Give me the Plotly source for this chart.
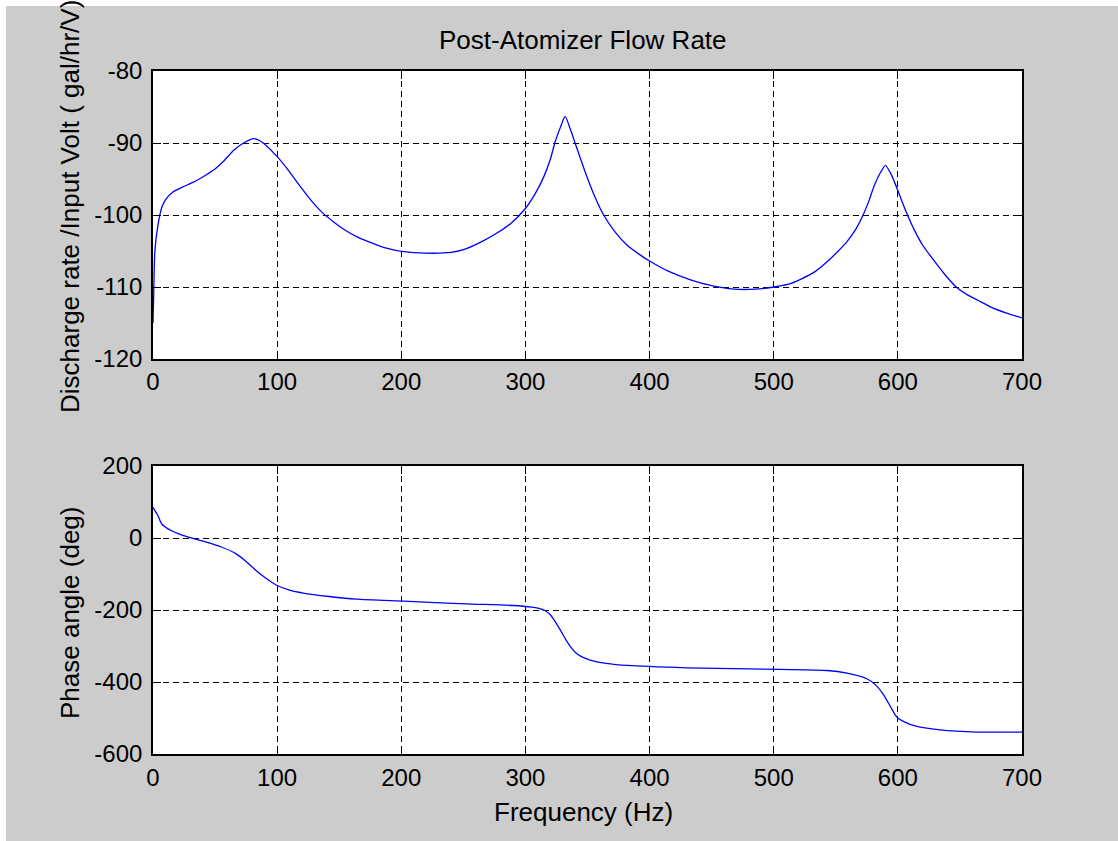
import plotly.graph_objects as go

# ---- data ----
mag_freq = [0, 0.5, 1.5, 4, 7, 10, 16, 24, 33, 43, 50, 57, 65, 74, 81, 88, 100, 110, 118,
            127, 136, 145, 153, 164, 175, 188, 202, 220, 240, 252, 266, 278, 288, 300, 308,
            315, 320, 324, 328, 332, 336, 340, 345, 350, 356, 363, 372, 382, 392, 401, 415,
            433, 450, 468, 485, 500, 512, 522, 533, 543, 552, 559, 566, 572, 577, 581, 586,
            590, 595, 602, 607, 613, 620, 629, 638, 647, 656, 664, 675, 687, 700]
mag_db = [-115.0, -111.5, -105.0, -101.4, -99.0, -97.9, -96.8, -96.1, -95.4, -94.4, -93.6,
          -92.5, -91.0, -89.9, -89.4, -89.9, -91.9, -94.0, -95.9, -97.9, -99.6, -100.9,
          -101.9, -103.0, -103.8, -104.6, -105.1, -105.3, -105.2, -104.7, -103.6, -102.4,
          -101.2, -99.1, -97.0, -94.6, -92.3, -89.8, -87.9, -86.3, -88.0, -90.0, -92.5,
          -94.9, -97.5, -100.0, -102.3, -104.2, -105.5, -106.5, -107.8, -109.0, -109.8,
          -110.3, -110.3, -110.0, -109.6, -108.9, -107.9, -106.5, -105.0, -103.7, -102.0,
          -100.0, -97.9, -95.9, -94.1, -93.1, -94.5, -97.5, -99.7, -102.0, -104.2, -106.3,
          -108.3, -110.0, -111.1, -111.8, -112.8, -113.6, -114.3]

ph_freq = [0, 4, 7, 15, 24, 43, 55, 67, 75, 83, 91, 100, 110, 121, 142, 164, 202, 252, 290,
           305, 310, 316, 320, 324, 328, 333, 337, 341, 346, 352, 365, 382, 430, 505, 543,
           559, 575, 582, 588, 594, 598, 601, 606, 613, 634, 664, 700]
ph_deg = [85, 62, 39, 20, 7, -11.6, -25, -44, -65, -90, -112, -132, -145, -153, -162.5,
          -170, -175.5, -183, -187.5, -192, -195, -202, -213, -232, -255, -285, -305, -320,
          -331, -339, -348, -354, -360.5, -365, -368, -375.5, -391, -408, -433, -468, -492,
          -503, -512, -521, -533, -539, -539]

x_ticks = [0, 100, 200, 300, 400, 500, 600, 700]
x_tick_text = ["0", "100", "200", "300", "400", "500", "600", "700"]
mag_ticks = [-120, -110, -100, -90, -80]
mag_tick_text = ["-120", "-110", "-100", "-90", "-80"]
ph_ticks = [-600, -400, -200, 0, 200]
ph_tick_text = ["-600", "-400", "-200", "0", "200"]

title_text = "Post-Atomizer Flow Rate"
mag_label = "Discharge rate /Input Volt ( gal/hr/V)"
ph_label = "Phase angle (deg)"
x_label = "Frequency (Hz)"

FONT = "Liberation Sans, Arial, sans-serif"
GRAY = "#cccccc"

fig = go.Figure()
fig.add_trace(go.Scatter(x=mag_freq, y=mag_db, mode="lines",
                         line=dict(color="#0000ff", width=1.3, shape="spline", smoothing=0.6),
                         xaxis="x", yaxis="y", showlegend=False, hoverinfo="skip"))
fig.add_trace(go.Scatter(x=ph_freq, y=ph_deg, mode="lines",
                         line=dict(color="#0000ff", width=1.3, shape="spline", smoothing=0.6),
                         xaxis="x2", yaxis="y2", showlegend=False, hoverinfo="skip"))

axis_common = dict(
    showgrid=True, gridcolor="#000000", gridwidth=1.2, griddash="6px,4px",
    ticks="inside", ticklen=8, tickwidth=1.3, tickcolor="#000000",
    showline=True, linecolor="#000000", linewidth=1.6, mirror="ticks",
    zeroline=False, tickfont=dict(family=FONT, size=24, color="#000000"),
    fixedrange=True,
)

top_lo = (754 - 359) / 683
bot_hi = (754 - 466) / 683

fig.update_layout(
    width=1118, height=841,
    paper_bgcolor=GRAY, plot_bgcolor="#ffffff",
    margin=dict(l=153, r=96, t=71, b=87),
    xaxis=dict(domain=[0, 1], anchor="y", range=[0, 700], tickvals=x_ticks,
               ticktext=x_tick_text, ticklabelstandoff=0, **axis_common),
    yaxis=dict(domain=[top_lo, 1], anchor="x", range=[-120, -80], tickvals=mag_ticks,
               ticktext=mag_tick_text, ticklabelstandoff=4, **axis_common),
    xaxis2=dict(domain=[0, 1], anchor="y2", range=[0, 700], tickvals=x_ticks,
                ticktext=x_tick_text, ticklabelstandoff=1, **axis_common),
    yaxis2=dict(domain=[0, bot_hi], anchor="x2", range=[-600, 200], tickvals=ph_ticks,
                ticktext=ph_tick_text, ticklabelstandoff=4, **axis_common),
    showlegend=False,
)

ann_font = dict(family=FONT, size=26, color="#000000")
fig.add_annotation(text=title_text, xref="paper", yref="paper",
                   x=(582.5 - 153) / 869, y=(754 - 40) / 683,
                   xanchor="center", yanchor="middle", showarrow=False, font=ann_font)
fig.add_annotation(text=x_label, xref="paper", yref="paper",
                   x=(583 - 153) / 869, y=(754 - 812) / 683,
                   xanchor="center", yanchor="middle", showarrow=False, font=ann_font)
fig.add_annotation(text=mag_label, xref="paper", yref="paper",
                   x=(70 - 153) / 869, y=(754 - 207) / 683, textangle=-90,
                   xanchor="center", yanchor="middle", showarrow=False, font=ann_font)
fig.add_annotation(text=ph_label, xref="paper", yref="paper",
                   x=(70 - 153) / 869, y=(754 - 613) / 683, textangle=-90,
                   xanchor="center", yanchor="middle", showarrow=False, font=ann_font)

# thin white border at the top and left of the window capture
fig.add_shape(type="rect", xref="paper", yref="paper", layer="above",
              x0=-0.3, x1=1.2, y0=(754 - 6) / 683, y1=1.3,
              fillcolor="#ffffff", line=dict(width=0))
fig.add_shape(type="rect", xref="paper", yref="paper", layer="above",
              x0=-0.3, x1=(6 - 153) / 869, y0=-0.3, y1=1.3,
              fillcolor="#ffffff", line=dict(width=0))

fig.write_html("out.html")
